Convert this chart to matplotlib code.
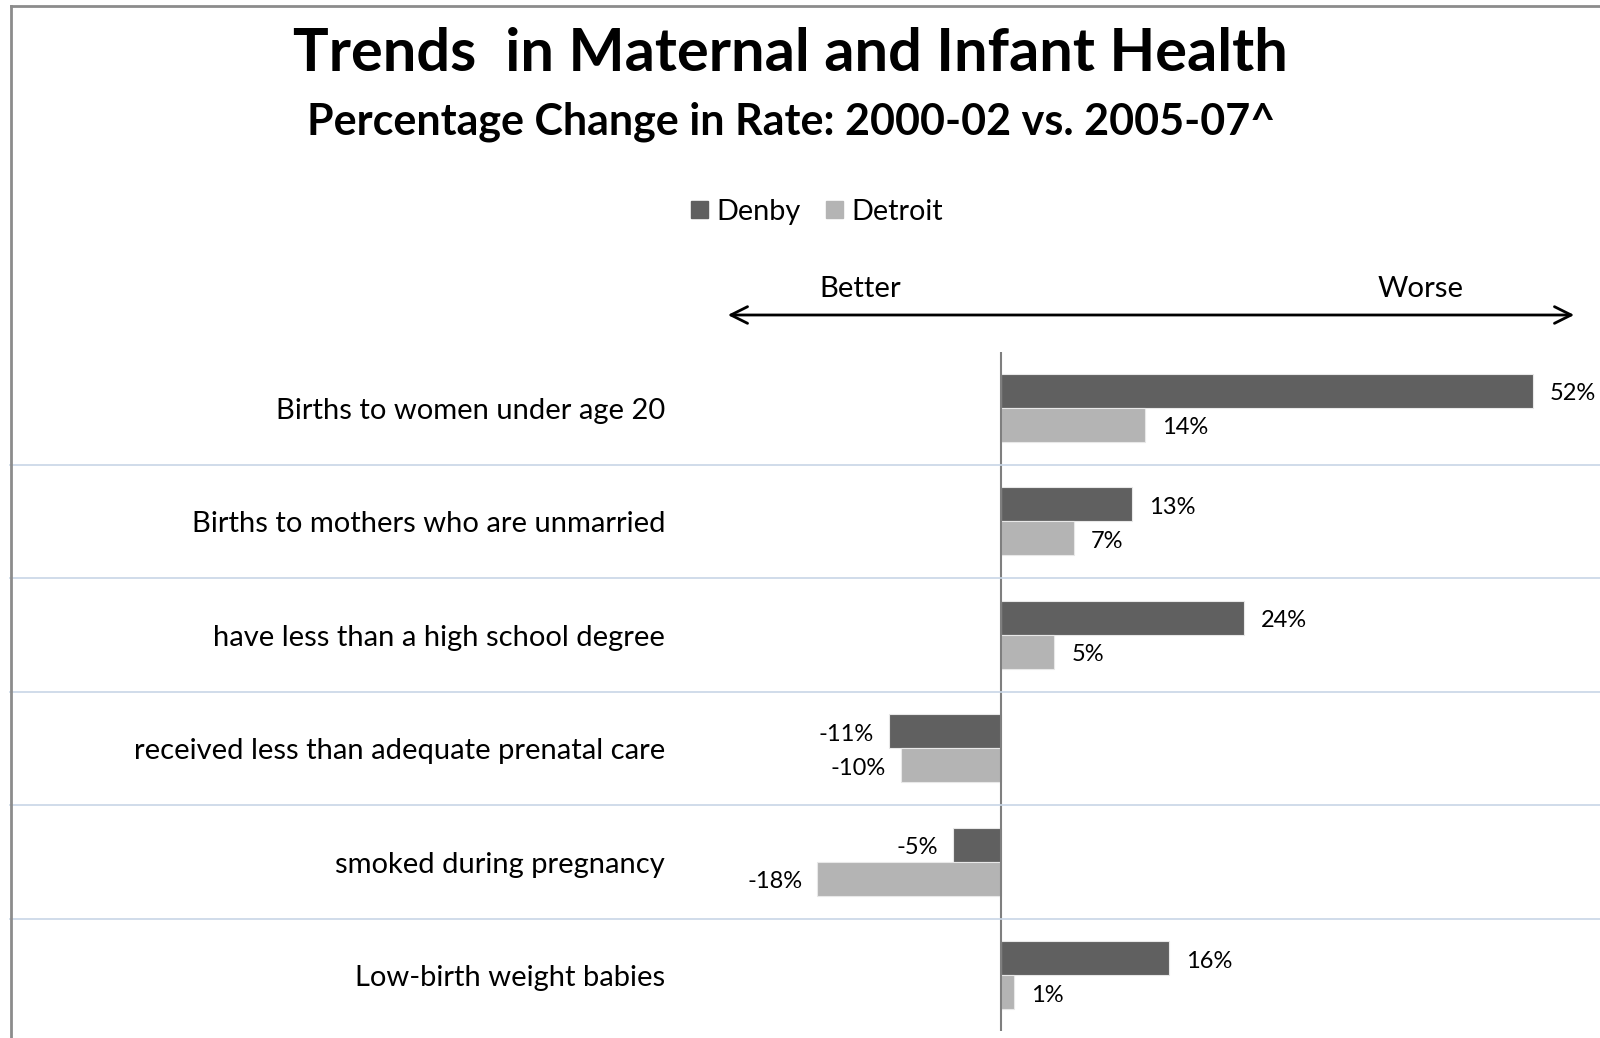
import matplotlib
matplotlib.use("Agg")
import matplotlib.pyplot as plt
from matplotlib.lines import Line2D
from matplotlib.patches import Rectangle

plt.rcParams['font.family'] = ['Lato', 'DejaVu Sans']

categories = ["Births to women under age 20",
              "Births to mothers who are unmarried",
              "have less than a high school degree",
              "received less than adequate prenatal care",
              "smoked during pregnancy",
              "Low-birth weight babies"]
# bar lengths; labels show them rounded
denby = [52.0, 12.8, 23.7, -11.0, -4.7, 16.4]
detroit = [14.1, 7.1, 5.2, -9.8, -18.0, 1.3]

c_denby = '#606060'
c_detroit = '#b4b4b4'

W, H = 1600, 1038
fig = plt.figure(figsize=(W / 100, H / 100), dpi=100)

# axes placed in pixel terms
ax_l, ax_r, ax_t, ax_b = 680, 1600, 352, 1031
ax = fig.add_axes([ax_l / W, 1 - ax_b / H, (ax_r - ax_l) / W, (ax_b - ax_t) / H])
ax.set_xlim(-31.4, 58.55)
ax.set_ylim(5.49, -0.493)
ax.axis('off')

h = 0.3
dy = 0.025  # small nudge so text sits like the original
for i, (a, b) in enumerate(zip(denby, detroit)):
    ax.barh(i - h / 2, a, height=h, color=c_denby, edgecolor='#e8e8e8', linewidth=0.8)
    ax.barh(i + h / 2, b, height=h, color=c_detroit, edgecolor='#e8e8e8', linewidth=0.8)
    for v, y in ((a, i - h / 2), (b, i + h / 2)):
        off = 1.65 if v >= 0 else -1.45
        ax.text(v + off, y + dy, f"{v:.0f}%", ha='left' if v >= 0 else 'right',
                va='center', fontsize=17)
    ax.text((665 - ax_l) / (ax_r - ax_l), i + dy, categories[i],
            transform=ax.get_yaxis_transform(), ha='right', va='center',
            fontsize=21)

ax.axvline(0, color='#7f7f7f', linewidth=1.5)

# row separators across the whole width
for i in range(len(categories) - 1):
    ax.plot([(10 - ax_l) / (ax_r - ax_l), 1.0], [i + 0.5, i + 0.5],
            transform=ax.get_yaxis_transform(), color='#c8d6e6',
            linewidth=1.2, clip_on=False)

# titles
fig.text(790 / W, 1 - 54 / H, "Trends  in Maternal and Infant Health",
         ha='center', va='center', fontsize=42.8, fontweight='bold')
fig.text(791 / W, 1 - 122 / H, "Percentage Change in Rate: 2000-02 vs. 2005-07^",
         ha='center', va='center', fontsize=31, fontweight='bold')

# legend
fig.patches.append(Rectangle((691 / W, 1 - 218 / H), 17 / W, 17 / H,
                             transform=fig.transFigure, color=c_denby))
fig.text(716 / W, 1 - 212 / H, "Denby", ha='left', va='center', fontsize=20.8)
fig.patches.append(Rectangle((826 / W, 1 - 218 / H), 17 / W, 17 / H,
                             transform=fig.transFigure, color=c_detroit))
fig.text(851 / W, 1 - 212 / H, "Detroit", ha='left', va='center', fontsize=20.8)

# better / worse arrow
fig.text(860 / W, 1 - 289 / H, "Better", ha='center', va='center', fontsize=21.2)
fig.text(1421 / W, 1 - 289 / H, "Worse", ha='center', va='center', fontsize=21.2)
fig.add_artist(matplotlib.patches.FancyArrowPatch(
    (725 / W, 1 - 315 / H), (1577 / W, 1 - 315 / H),
    transform=fig.transFigure, arrowstyle='<->,head_length=12,head_width=6',
    mutation_scale=1, color='black', linewidth=2))

# frame
fig.add_artist(Line2D([10.5 / W, 10.5 / W], [0, 1 - 6 / H],
                      transform=fig.transFigure, color='#8c8c8c', linewidth=2))
fig.add_artist(Line2D([10.5 / W, 1], [1 - 6 / H, 1 - 6 / H],
                      transform=fig.transFigure, color='#8c8c8c', linewidth=2))

fig.savefig('out.png', dpi=100)
